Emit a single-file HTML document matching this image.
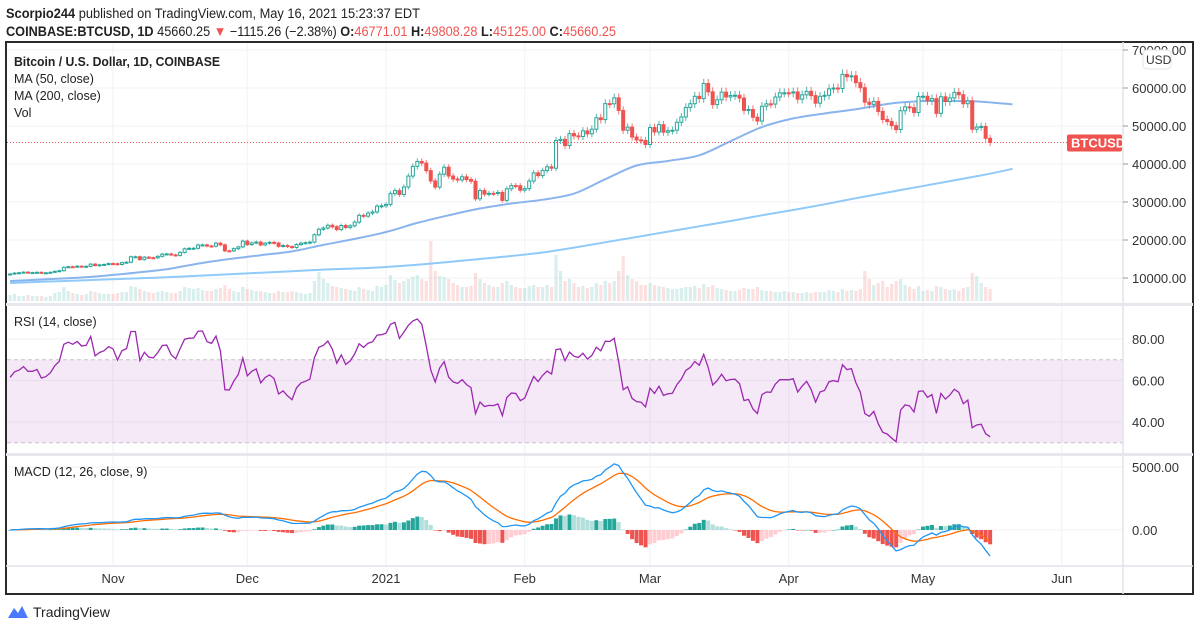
<!DOCTYPE html>
<html><head><meta charset="utf-8"><style>
html,body{margin:0;padding:0;background:#fff;width:1200px;height:631px;overflow:hidden}
svg{display:block;font-family:"Liberation Sans",sans-serif}
</style></head><body>
<svg id="c" width="1200" height="631" viewBox="0 0 1200 631">
<text x="6" y="18" font-size="13.5" fill="#222" textLength="414" lengthAdjust="spacingAndGlyphs"><tspan font-weight="bold">Scorpio244</tspan> published on TradingView.com, May 16, 2021 15:23:37 EDT</text>
<text x="6" y="36" font-size="13.5" fill="#222" textLength="610" lengthAdjust="spacingAndGlyphs"><tspan font-weight="bold">COINBASE:BTCUSD, 1D</tspan> 45660.25 <tspan fill="#ef5350">▼</tspan> −1115.26 (−2.38%) <tspan font-weight="bold">O:</tspan><tspan fill="#ef5350">46771.01</tspan> <tspan font-weight="bold">H:</tspan><tspan fill="#ef5350">49808.28</tspan> <tspan font-weight="bold">L:</tspan><tspan fill="#ef5350">45125.00</tspan> <tspan font-weight="bold">C:</tspan><tspan fill="#ef5350">45660.25</tspan></text>
<g id="grid"></g>
<g id="marks"></g>
<rect x="6" y="42" width="1187" height="552" fill="none" stroke="#2a2a2a" stroke-width="2"/>
<line x1="1123" y1="42" x2="1123" y2="594" stroke="#e0e3eb" stroke-width="1.5"/>
<rect x="6" y="303" width="1187" height="3" fill="#e6e8ee"/>
<rect x="6" y="453" width="1187" height="3" fill="#e6e8ee"/>
<line x1="6" y1="566" x2="1193" y2="566" stroke="#e0e3eb" stroke-width="1.5"/>
<text x="14" y="66" font-size="12.5" font-weight="bold" fill="#222" textLength="206" lengthAdjust="spacingAndGlyphs">Bitcoin / U.S. Dollar, 1D, COINBASE</text>
<text x="14" y="83" font-size="12.5" fill="#222">MA (50, close)</text>
<text x="14" y="100" font-size="12.5" fill="#222">MA (200, close)</text>
<text x="14" y="117" font-size="12.5" fill="#222">Vol</text>
<text x="14" y="326" font-size="12.5" fill="#222">RSI (14, close)</text>
<text x="14" y="476" font-size="12.5" fill="#222">MACD (12, 26, close, 9)</text>
<g><path d="M8 618 L14 608 L18 613 L22 606 L28 618 Z" fill="#2962ff" opacity="0.85"/></g>
<text x="33" y="617" font-size="14" fill="#222">TradingView</text>
</svg>
<script>
const closes=[11050,11300,11380,11540,11430,11430,11500,11320,11370,11500,11750,11920,12820,12970,12930,13110,13030,13070,13650,13270,13460,13560,13800,
13760,13550,14030,14150,15590,15590,14840,15480,15330,15310,15700,16290,16330,16070,15960,16730,17680,17800,17820,18680,18710,18420,18370,19160,18720,17150,17140,17720,18180,19700,
18790,19220,19450,18700,19150,19380,19190,18330,18550,18260,18040,18810,19170,19280,19440,21380,22820,23150,23870,23480,22740,23830,23280,23740,24710,26490,26280,27080,27390,28900,29000,
29370,32200,33000,31990,33950,36820,39370,40670,40240,38240,35540,33920,37320,39150,36830,36040,35810,36630,35910,35470,30850,33010,32080,32280,32250,32510,30430,33470,34320,34270,33110,
33520,35510,37660,36950,38290,39260,38900,46200,46480,44850,48000,47410,47230,48720,47940,49160,52150,51680,55890,55840,57410,54090,48890,49700,47090,46340,46190,45140,
49590,48440,50350,48370,48760,48880,50970,52380,54880,55860,57810,57220,61180,59000,55630,56900,58910,57650,58030,58100,57350,54100,54340,52300,51300,55190,55830,55780,57630,58730,58740,
58720,58960,57060,58200,59130,57990,56010,57810,58080,59770,60000,59860,63580,62960,63200,61400,60070,56270,55700,56470,53830,51700,51190,50100,49070,54020,55030,54820,53560,57750,
57830,56630,57200,53330,57690,56440,57390,58840,58230,55860,56610,49150,49720,49880,46770,45660];
const volumes=[6,7,5,5,6,5,5,5,4,5,8,9,14,10,8,7,6,7,10,9,8,7,7,
7,8,9,9,15,14,12,10,9,8,9,10,9,8,8,10,14,13,12,13,11,10,10,12,13,16,12,10,9,14,
12,11,10,10,9,8,8,10,9,9,10,9,8,7,8,20,29,22,18,15,14,13,12,11,10,14,12,11,10,15,14,
16,26,21,18,20,22,24,26,22,20,60,30,25,24,22,18,16,14,14,15,28,22,18,16,14,14,18,20,16,14,13,
13,15,16,14,14,16,14,46,30,20,22,18,14,15,13,14,18,16,20,18,20,30,45,26,22,20,16,16,
18,16,15,14,13,12,12,13,14,14,15,13,17,14,16,13,12,11,10,10,11,13,12,12,14,11,10,10,9,9,10,
9,9,8,8,9,8,9,9,9,11,10,9,12,10,11,10,12,30,22,16,18,20,14,17,20,22,16,14,12,15,
10,11,10,15,14,12,11,12,10,13,14,28,25,18,14,12];
const ma50=[9200,9600,10000,10600,11400,12300,13800,15000,16000,17000,18700,20300,22100,24500,26500,28300,29600,30600,32200,36000,39600,40800,42300,46000,49700,52000,53300,54400,55800,56500,56600,56400,55700];
const ma200=[8700,9000,9300,9600,9900,10200,10600,11000,11400,11800,12200,12500,12900,13500,14200,15000,15800,16700,18000,19400,20800,22200,23600,25000,26500,27900,29400,31000,32500,34000,35500,37000,38700];
const priceTicks=[10000,20000,30000,40000,50000,60000,70000];
const rsiTicks=[40,60,80];
const macdTicks=[0,5000];
const monthLabels=["Nov","Dec","2021","Feb","Mar","Apr","May","Jun"];
const monthDays=[-61,-31,0,31,59,90,120,151];
const startDay=-84, maStep=7;

const NS="http://www.w3.org/2000/svg";
const X=d=>386+d*4.475;
const Y=p=>278-(p-10000)*0.0038;
const RY=r=>339+(80-r)*2.075;
const MY=m=>530-m*0.0126;
const VY=v=>301-v*1.0;
const grid=document.getElementById('grid'), marks=document.getElementById('marks'), svg=document.getElementById('c');
function mk(tag,attrs,parent){const e=document.createElementNS(NS,tag);for(const k in attrs)e.setAttribute(k,attrs[k]);(parent||marks).appendChild(e);return e;}
function txt(x,y,s,attrs,parent){const e=mk('text',Object.assign({x:x,y:y,'font-size':13,fill:'#333'},attrs||{}),parent||svg);e.textContent=s;return e;}

monthDays.forEach((d,i)=>{
  const gl=mk('line',{x1:X(d),x2:X(d),y1:43,y2:566,stroke:'#f0f2f6','stroke-width':1},grid);
  
  
  const t=txt(X(d),583,monthLabels[i],{'text-anchor':'middle'});
  
  
});
priceTicks.forEach(p=>{
  const gl=mk('line',{x1:7,x2:1123,y1:Y(p),y2:Y(p),stroke:'#f0f2f6'},grid);
  
  
  mk('line',{x1:1123,x2:1128,y1:Y(p),y2:Y(p),stroke:'#999'},svg);
  const t=txt(1132,Y(p)+5,p.toFixed(2));
  
  
});
rsiTicks.forEach(r=>{
  mk('line',{x1:7,x2:1123,y1:RY(r),y2:RY(r),stroke:'#f0f2f6'},grid);
  const t=txt(1132,RY(r)+5,r.toFixed(2));
  
  
});
macdTicks.forEach(m=>{
  mk('line',{x1:7,x2:1123,y1:MY(m),y2:MY(m),stroke:'#f0f2f6'},grid);
  const t=txt(1132,MY(m)+5,m.toFixed(2));
  
  
});

closes.forEach((c,i)=>{
  const o=i?closes[i-1]:c, x=X(startDay+i);
  const b=mk('rect',{x:x-1.6,y:VY(volumes[i]),width:3.2,height:301-VY(volumes[i]),fill:c>=o?'rgba(38,166,154,0.18)':'rgba(239,83,80,0.18)'});
  
  
});
function smoothPath(pts){
  let d='M'+pts[0][0]+','+pts[0][1];
  for(let i=0;i<pts.length-1;i++){
    const p0=pts[i-1]||pts[i],p1=pts[i],p2=pts[i+1],p3=pts[i+2]||p2;
    const c1=[p1[0]+(p2[0]-p0[0])/6,p1[1]+(p2[1]-p0[1])/6],c2=[p2[0]-(p3[0]-p1[0])/6,p2[1]-(p3[1]-p1[1])/6];
    d+=' C'+c1[0].toFixed(1)+','+c1[1].toFixed(1)+' '+c2[0].toFixed(1)+','+c2[1].toFixed(1)+' '+p2[0].toFixed(1)+','+p2[1].toFixed(1);
  }
  return d;
}
function maLine(arr,col,w,name){
  const pts=arr.map((v,k)=>[X(startDay+k*maStep),Y(v)]);
  const l=mk('path',{d:smoothPath(pts),fill:'none',stroke:col,'stroke-width':w,'stroke-linejoin':'round'});
  
  
}
maLine(ma200,'#90caf9',2,'ma200-line');
maLine(ma50,'#8ab4ee',2,'ma50-line');
closes.forEach((c,i)=>{
  const o=i?closes[i-1]:c, x=X(startDay+i), up=c>=o;
  const col=up?'#26a69a':'#ef5350';
  const hi=Math.max(o,c)*1.02, lo=Math.min(o,c)*0.98;
  const w=mk('line',{x1:x,x2:x,y1:Y(hi),y2:Y(lo),stroke:col,'stroke-width':1,opacity:0.8});
  
  
  const top=Y(Math.max(o,c)), h=Math.max(1,Y(Math.min(o,c))-top);
  const b=mk('rect',{x:x-1.5,y:top,width:3,height:h,fill:up?'#fff':col,stroke:col,'stroke-width':1});
  
  
});
const lp=closes[closes.length-1];
mk('line',{x1:7,x2:1123,y1:Y(lp),y2:Y(lp),stroke:'#ef5350','stroke-width':1,'stroke-dasharray':'1,2'});
const lbl=mk('rect',{x:1067,y:Y(lp)-8,width:55,height:17,fill:'#ef5350',rx:2},svg);


txt(1071,Y(lp)+5,'BTCUSD',{fill:'#fff','font-weight':'bold'});
const usd=mk('rect',{x:1143,y:50,width:28,height:19,fill:'#fff',stroke:'#e0e3eb',rx:4},svg);


txt(1146,64,'USD',{'font-size':12});

const band=mk('rect',{x:7,y:RY(70),width:1116,height:RY(30)-RY(70),fill:'rgba(156,39,176,0.1)'});


[70,30].forEach(r=>mk('line',{x1:7,x2:1123,y1:RY(r),y2:RY(r),stroke:'#c8c0cc','stroke-dasharray':'4,3'}));
let ag=160,al=100;const rsi=[];
closes.forEach((c,i)=>{
  if(i){const ch=c-closes[i-1];ag=(ag*13+Math.max(ch,0))/14;al=(al*13+Math.max(-ch,0))/14;}
  rsi.push(100-100/(1+ag/al));
});
const rl=mk('polyline',{points:rsi.map((r,i)=>X(startDay+i).toFixed(1)+','+RY(r).toFixed(1)).join(' '),fill:'none',stroke:'#9c27b0','stroke-width':1.3});



let e12=closes[0],e26=closes[0],sig=0;const macd=[],sg=[];
closes.forEach(c=>{e12+= (c-e12)*2/13;e26+=(c-e26)*2/27;const m=e12-e26;sig+=(m-sig)*2/10;macd.push(m);sg.push(sig);});
macd.forEach((m,i)=>{
  const h=m-sg[i], ph=i?macd[i-1]-sg[i-1]:0;
  const col=h>=0?(h>=ph?'#26a69a':'#b2dfdb'):(h<=ph?'#ef5350':'#ffcdd2');
  const y1=Math.min(MY(h),MY(0)), y2=Math.max(MY(h),MY(0));
  const b=mk('rect',{x:X(startDay+i)-2,y:y1,width:4,height:Math.max(0.5,y2-y1),fill:col});
  
  
});
const sl=mk('polyline',{points:sg.map((v,i)=>X(startDay+i).toFixed(1)+','+MY(v).toFixed(1)).join(' '),fill:'none',stroke:'#ff6d00','stroke-width':1.3});


const ml=mk('polyline',{points:macd.map((v,i)=>X(startDay+i).toFixed(1)+','+MY(v).toFixed(1)).join(' '),fill:'none',stroke:'#2196f3','stroke-width':1.3});


</script>
</body></html>
